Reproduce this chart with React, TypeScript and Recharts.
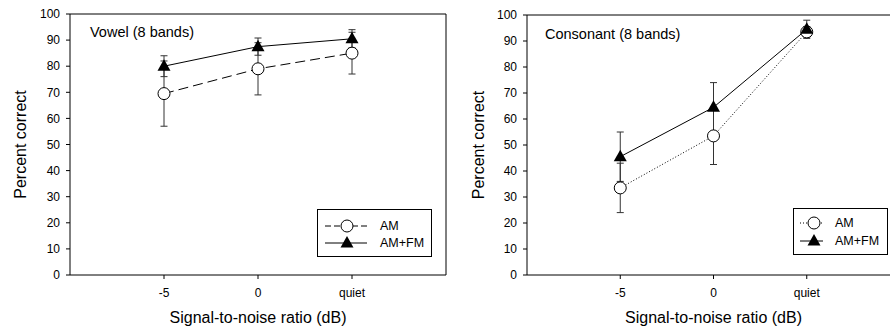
import { LineChart, Line, XAxis, YAxis, ErrorBar, ReferenceLine } from 'recharts'

const conditions = ['-5', '0', 'quiet']
const yTicks = [0, 10, 20, 30, 40, 50, 60, 70, 80, 90, 100]

const vowelAM = [69.5, 79, 85]
const vowelAMErr = [12.5, 10, 8]
const vowelAMFM = [80, 87.5, 90.5]
const vowelAMFMErr = [4, 3.3, 3.5]

const consAM = [33.5, 53.5, 93.5]
const consAMErr = [9.5, 11, 2]
const consAMFM = [45.5, 64.5, 94.5]
const consAMFMErr = [9.5, 9.5, 3.5]

const FONT = '"Liberation Sans", Arial, sans-serif'

const toRows = (am: number[], amErr: number[], fm: number[], fmErr: number[]) =>
  conditions.map((c, i) => ({ x: i, label: c, am: am[i], amErr: amErr[i], fm: fm[i], fmErr: fmErr[i] }))

const circleDot = (p: any) => (
  <circle key={`c${p.index}`} cx={p.cx} cy={p.cy} r={6} fill="#fff" stroke="#000" strokeWidth={1} />
)
const triangleDot = (p: any) => (
  <polygon
    key={`t${p.index}`}
    points={`${p.cx},${p.cy - 7} ${p.cx - 6.5},${p.cy + 4.5} ${p.cx + 6.5},${p.cy + 4.5}`}
    fill="#000"
  />
)

const tick = { fill: '#000', fontSize: 12, fontFamily: FONT }

interface PanelProps {
  rows: ReturnType<typeof toRows>
  width: number
  left: number
  marginLeft: number
  top: number
  amDash: string
  yLabelX: number
}

function Panel({ rows, width, left, marginLeft, top, amDash, yLabelX }: PanelProps) {
  return (
    <div style={{ position: 'absolute', left, top: 0 }}>
      <LineChart width={width} height={329} data={rows} margin={{ top, right: 5, bottom: 24, left: marginLeft }}>
        <XAxis
          type="number"
          dataKey="x"
          domain={[-1, 3]}
          ticks={[0, 1, 2]}
          tickFormatter={(v: number) => conditions[v]}
          tick={tick}
          tickSize={4}
          tickMargin={9}
          axisLine={{ stroke: '#000' }}
          tickLine={{ stroke: '#000' }}
          allowDataOverflow
          label={{
            content: ({ viewBox }: any) => (
              <text x={viewBox.x + viewBox.width / 2} y={323} textAnchor="middle" fontSize={16} fontFamily={FONT} fill="#000">
                Signal-to-noise ratio (dB)
              </text>
            ),
          }}
        />
        <YAxis
          width={60}
          domain={[0, 100]}
          ticks={yTicks}
          tick={tick}
          tickSize={4}
          tickMargin={6}
          axisLine={{ stroke: '#000' }}
          tickLine={{ stroke: '#000' }}
          label={{
            content: ({ viewBox }: any) => (
              <text
                x={yLabelX}
                y={viewBox.y + viewBox.height / 2}
                transform={`rotate(-90, ${yLabelX}, ${viewBox.y + viewBox.height / 2})`}
                textAnchor="middle"
                dominantBaseline="central"
                fontSize={16}
                fontFamily={FONT}
                fill="#000"
              >
                Percent correct
              </text>
            ),
          }}
        />
        <ReferenceLine y={100} stroke="#000" />
        <ReferenceLine x={3} stroke="#000" />
        <Line
          dataKey="am"
          stroke="#000"
          strokeWidth={1}
          strokeDasharray={amDash}
          dot={circleDot}
          activeDot={false}
          isAnimationActive={false}
        >
          <ErrorBar dataKey="amErr" width={3.5} stroke="#333" strokeWidth={1} />
        </Line>
        <Line
          dataKey="fm"
          stroke="#000"
          strokeWidth={1}
          dot={triangleDot}
          activeDot={false}
          isAnimationActive={false}
        >
          <ErrorBar dataKey="fmErr" width={3.5} stroke="#333" strokeWidth={1} />
        </Line>
      </LineChart>
    </div>
  )
}

interface LegendProps {
  left: number
  top: number
  width: number
  height: number
  lineX: [number, number]
  markX: number
  textX: number
  rowY: [number, number]
  amDash: string
}

function LegendBox({ left, top, width, height, lineX, markX, textX, rowY, amDash }: LegendProps) {
  return (
    <svg
      style={{ position: 'absolute', left, top, overflow: 'visible' }}
      width={width}
      height={height}
    >
      <rect x={0.5} y={0.5} width={width - 1} height={height - 1} fill="#fff" stroke="#000" />
      <line x1={lineX[0]} x2={lineX[1]} y1={rowY[0]} y2={rowY[0]} stroke="#000" strokeDasharray={amDash} />
      <circle cx={markX} cy={rowY[0]} r={6} fill="#fff" stroke="#000" />
      <text x={textX} y={rowY[0]} dominantBaseline="central" fontSize={12.5} fontFamily={FONT}>AM</text>
      <line x1={lineX[0]} x2={lineX[1]} y1={rowY[1]} y2={rowY[1]} stroke="#000" />
      <polygon
        points={`${markX},${rowY[1] - 7} ${markX - 6.5},${rowY[1] + 4.5} ${markX + 6.5},${rowY[1] + 4.5}`}
        fill="#000"
      />
      <text x={textX} y={rowY[1]} dominantBaseline="central" fontSize={12.5} fontFamily={FONT}>AM+FM</text>
    </svg>
  )
}

export default function App() {
  const vowel = toRows(vowelAM, vowelAMErr, vowelAMFM, vowelAMFMErr)
  const cons = toRows(consAM, consAMErr, consAMFM, consAMFMErr)
  return (
    <div
      style={{
        position: 'absolute',
        left: 0,
        top: 0,
        width: 890,
        height: 329,
        overflow: 'hidden',
        background: '#fff',
        fontFamily: FONT,
      }}
    >
      <Panel rows={vowel} width={451} left={0} marginLeft={10} top={14} amDash="10 5" yLabelX={20} />
      <Panel rows={cons} width={460} left={445} marginLeft={22} top={15} amDash="1 2" yLabelX={33} />
      <div style={{ position: 'absolute', left: 90, top: 24, fontSize: 14.5 }}>Vowel (8 bands)</div>
      <div style={{ position: 'absolute', left: 545, top: 26, fontSize: 14.5 }}>Consonant (8 bands)</div>
      <LegendBox left={317} top={209} width={115} height={48} lineX={[8, 50]} markX={30} textX={63} rowY={[17, 34]} amDash="6 3" />
      <LegendBox left={793} top={208} width={95} height={47} lineX={[7, 30]} markX={21} textX={42} rowY={[15, 33]} amDash="1 2" />
    </div>
  )
}
